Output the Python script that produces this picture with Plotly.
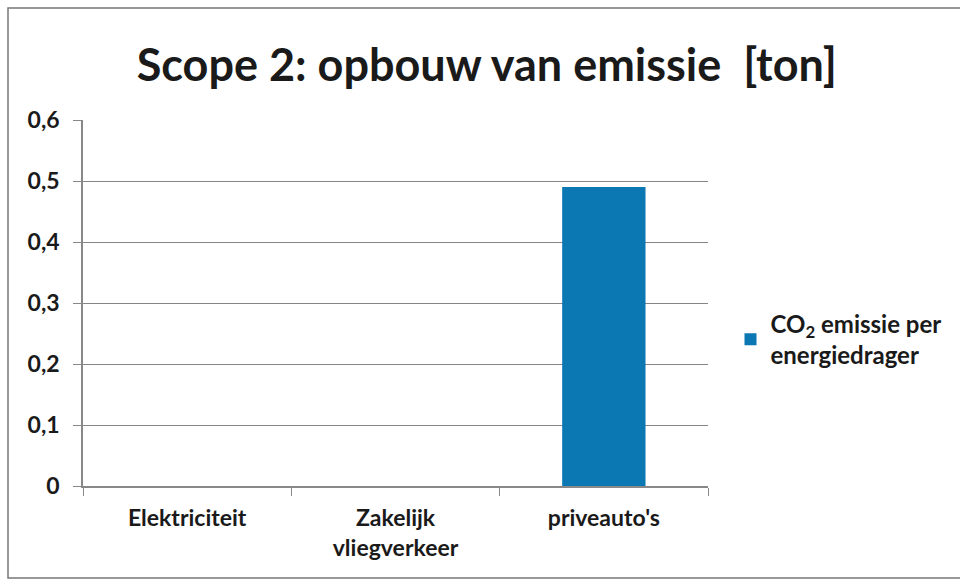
import plotly.graph_objects as go

# Emission build-up per energy carrier (tons CO2)
categories = ["Elektriciteit", "Zakelijk<br>vliegverkeer", "priveauto's"]
emissions = [0, 0, 0.49]
series_name = "CO<sub>2</sub> emissie per<br>energiedrager"
y_ticks = [0, 0.1, 0.2, 0.3, 0.4, 0.5, 0.6]
y_tick_labels = ["0", "0,1", "0,2", "0,3", "0,4", "0,5", "0,6"]

FONT = "Lato, 'Open Sans', sans-serif"
INK = "#1a1a1a"

fig = go.Figure()
fig.add_trace(go.Bar(
    x=categories,
    y=emissions,
    name=series_name,
    marker=dict(color="#0b77b3", line=dict(width=0)),
    showlegend=True,
))

fig.update_layout(
    width=960,
    height=585,
    margin=dict(l=83, r=252, t=120, b=99),
    paper_bgcolor="white",
    plot_bgcolor="white",
    bargap=0.6,
    title=dict(
        text="<b>Scope 2: opbouw van emissie  [ton]</b>",
        x=0.507, xanchor="center",
        y=0.888, yanchor="middle",
        font=dict(family=FONT, size=45, color=INK),
    ),
    legend=dict(
        x=1.036, xanchor="left",
        y=0.40, yanchor="middle",
        font=dict(family=FONT, size=24, color=INK, weight="bold"),
        bgcolor="rgba(0,0,0,0)",
        itemwidth=30,
    ),
    showlegend=True,
)

fig.update_xaxes(
    type="category",
    tickson="boundaries",
    ticks="outside",
    ticklen=8,
    tickcolor="#888888",
    showgrid=False,
    showline=True,
    linecolor="#888888",
    linewidth=1.5,
    ticklabelstandoff=11,
    tickfont=dict(family=FONT, size=23, color=INK, weight="bold"),
)

fig.update_yaxes(
    range=[0, 0.6],
    tickvals=y_ticks,
    ticktext=y_tick_labels,
    ticks="outside",
    ticklen=8,
    tickcolor="#888888",
    showgrid=True,
    gridcolor="#858585",
    gridwidth=1.2,
    showline=True,
    linecolor="#888888",
    linewidth=1.5,
    zeroline=False,
    ticklabelstandoff=9,
    tickfont=dict(family=FONT, size=23, color=INK, weight="bold"),
)

# Outer chart frame
fig.add_shape(
    type="rect", xref="paper", yref="paper",
    x0=-75 / 625, x1=947 / 625,
    y0=-92 / 366, y1=478 / 366,
    line=dict(color="#777777", width=1.5),
    layer="below",
)

fig.write_html("out.html")
